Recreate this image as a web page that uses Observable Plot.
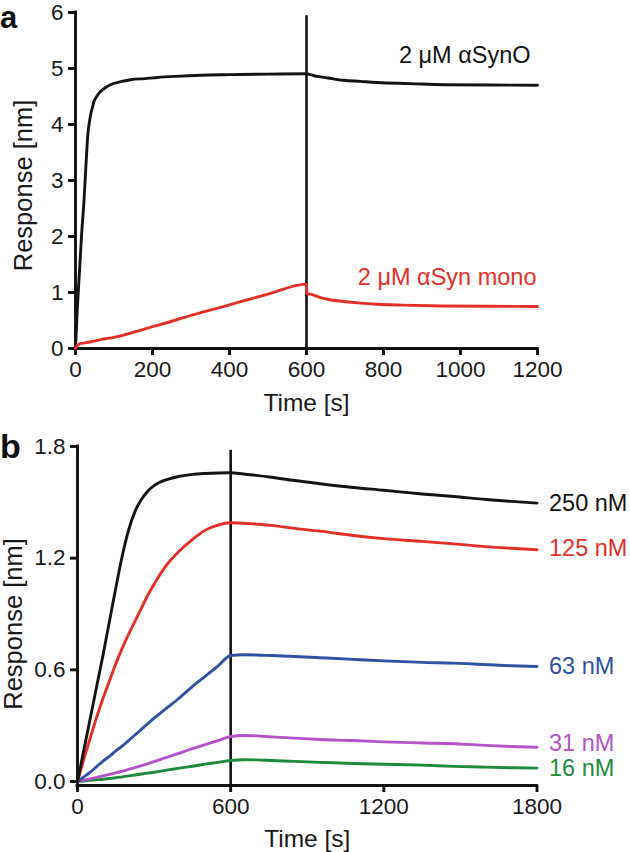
<!DOCTYPE html>
<html>
<head>
<meta charset="utf-8">
<script src="https://cdn.jsdelivr.net/npm/d3@7"></script>
<script src="https://cdn.jsdelivr.net/npm/@observablehq/plot@0.6"></script>
<style>
  html, body { margin: 0; padding: 0; background: #fff; }
  #chart { position: relative; width: 630px; height: 852px; overflow: hidden; font-family: "Liberation Sans", Arial, sans-serif; }
  .panel { position: absolute; left: 0; }
  .letter { position: absolute; left: 0; font-weight: bold; color: #111; }
</style>
</head>
<body>
<div id="chart">
  <div id="pa" class="panel" style="top:0px"></div>
  <div id="pb" class="panel" style="top:420px"></div>
  <div class="letter" style="top:0px;font-size:31px;line-height:35px;">a</div>
  <div class="letter" style="top:431px;font-size:34px;line-height:30px;">b</div>
</div>
<script>
// ---------- Panel a data ----------
const aXTicks = [0, 200, 400, 600, 800, 1000, 1200];
const aYTicks = [0, 1, 2, 3, 4, 5, 6];
const aXDomain = [0, 1200];
const aYDomain = [0, 6];
const aInjectEnd = 600;
const aInjectTop = 5.94;

const synOTime = [0, 5, 11, 16, 22, 27, 32, 37, 41, 45, 48, 55, 65, 78, 91, 115, 143, 180, 213, 260, 325, 400, 500, 600,
                  610, 620, 636, 656, 696, 740, 783, 870, 956, 1080, 1200];
const synOResp = [0, 0.75, 1.45, 2.05, 2.63, 3.25, 3.82, 4.08, 4.23, 4.33, 4.41, 4.5, 4.59, 4.66, 4.71, 4.76, 4.8, 4.82, 4.84, 4.86, 4.88, 4.89, 4.9, 4.905,
                  4.89, 4.87, 4.85, 4.83, 4.79, 4.77, 4.75, 4.73, 4.71, 4.705, 4.7];

const monoTime = [0, 3, 8, 13, 25, 40, 60, 74, 100, 130, 161, 190, 222, 300, 400, 500, 600,
                  601, 610, 620, 636, 654, 696, 740, 783, 850, 956, 1080, 1200];
const monoResp = [0, 0.04, 0.07, 0.09, 0.1, 0.12, 0.15, 0.17, 0.2, 0.25, 0.31, 0.37, 0.43, 0.59, 0.78, 0.97, 1.15,
                  0.98, 0.97, 0.95, 0.91, 0.88, 0.84, 0.81, 0.79, 0.775, 0.76, 0.755, 0.75];

const aNames = ["2 μM αSynO", "2 μM αSyn mono"];
const aColors = ["#141414", "#e5302a"];

// ---------- Panel b data ----------
const bXTicks = [0, 600, 1200, 1800];
const bYTicks = [0, 0.6, 1.2, 1.8];
const bXDomain = [0, 1800];
const bYDomain = [-0.0215, 1.8];
const bInjectEnd = 600;
const bInjectTop = 1.78;

const bTime = [0, 25, 50, 75, 100, 125, 150, 175, 200, 225, 250, 275, 300, 350, 400, 450, 500, 550, 600,
               650, 700, 760, 850, 950, 1080, 1200, 1350, 1475, 1600, 1700, 1800];
const resp250 = [0, 0.17, 0.34, 0.51, 0.68, 0.86, 1.04, 1.21, 1.35, 1.45, 1.515, 1.56, 1.59, 1.622, 1.64, 1.65, 1.655, 1.658, 1.659,
                 1.652, 1.645, 1.635, 1.617, 1.6, 1.58, 1.565, 1.545, 1.531, 1.515, 1.505, 1.496];
const resp125 = [0, 0.12, 0.235, 0.345, 0.447, 0.54, 0.632, 0.715, 0.79, 0.86, 0.93, 1.0, 1.06, 1.165, 1.24, 1.3, 1.35, 1.378, 1.39,
                 1.388, 1.383, 1.376, 1.36, 1.345, 1.322, 1.305, 1.29, 1.277, 1.262, 1.253, 1.245];
const resp63  = [0, 0.025, 0.05, 0.08, 0.11, 0.135, 0.165, 0.19, 0.22, 0.25, 0.28, 0.31, 0.34, 0.395, 0.45, 0.51, 0.565, 0.62, 0.677,
                 0.681, 0.68, 0.677, 0.672, 0.665, 0.656, 0.648, 0.64, 0.636, 0.628, 0.622, 0.618];
const resp31  = [0, 0.007, 0.014, 0.022, 0.03, 0.038, 0.046, 0.055, 0.065, 0.075, 0.085, 0.095, 0.107, 0.13, 0.153, 0.176, 0.198, 0.22, 0.242,
                 0.247, 0.245, 0.24, 0.233, 0.226, 0.22, 0.213, 0.207, 0.203, 0.194, 0.188, 0.184];
const resp16  = [0, 0.003, 0.006, 0.009, 0.012, 0.016, 0.02, 0.025, 0.03, 0.035, 0.04, 0.045, 0.05, 0.061, 0.072, 0.082, 0.093, 0.103, 0.113,
                 0.117, 0.116, 0.113, 0.108, 0.103, 0.097, 0.093, 0.088, 0.081, 0.077, 0.074, 0.072];

const bNames = ["250 nM", "125 nM", "63 nM", "31 nM", "16 nM"];
const bColors = ["#141414", "#e5302a", "#2f52a4", "#b454c8", "#1e8c3c"];
const bResps = [resp250, resp125, resp63, resp31, resp16];

// ---------- helpers ----------
const FONT = '"Liberation Sans", Arial, Helvetica, sans-serif';
const AXW = 2.9;
const LW = 2.9;
const INJW = 2.6;
const intFmt = d3.format("d");

function rows(ts, vs) { return ts.map((t, i) => ({t, v: vs[i]})); }

function thickenTicks(svg) {
  d3.select(svg).selectAll('g[aria-label*="tick"]').each(function () {
    const label = this.getAttribute("aria-label") || "";
    if (label.includes("label")) return;
    d3.select(this).attr("stroke-width", AXW).attr("stroke", "#111");
    d3.select(this).selectAll("path, line").attr("stroke-width", AXW).attr("stroke", "#111");
  });
}

// ---------- Panel a ----------
const aSeries = [rows(synOTime, synOResp), rows(monoTime, monoResp)];
const aLabelOffsets = [{dx: -7, dy: -30}, {dx: -1, dy: -29}];

const plotA = Plot.plot({
  width: 630, height: 420,
  marginLeft: 75, marginRight: 93, marginTop: 12, marginBottom: 72,
  style: {fontFamily: FONT, fontSize: "22.5px", color: "#1a1a1a", background: "transparent", overflow: "visible"},
  x: {domain: aXDomain},
  y: {domain: aYDomain},
  marks: [
    Plot.axisX({ticks: aXTicks, tickFormat: intFmt, tickSize: 7, tickPadding: 6, label: null, fontSize: 22.5}),
    Plot.axisY({ticks: aYTicks, tickFormat: intFmt, tickSize: 7, tickPadding: 5, label: null, fontSize: 22.5}),
    Plot.ruleY([aYDomain[0]], {stroke: "#111", strokeWidth: AXW, strokeLinecap: "square"}),
    Plot.ruleX([aXDomain[0]], {stroke: "#111", strokeWidth: AXW, strokeLinecap: "square"}),
    Plot.ruleX([aInjectEnd], {y1: aYDomain[0], y2: aInjectTop, stroke: "#111", strokeWidth: INJW}),
    ...aSeries.map((s, i) => Plot.line(s, {x: "t", y: "v", stroke: aColors[i], strokeWidth: LW, curve: "monotone-x"})),
    ...aSeries.map((s, i) => Plot.text([s[s.length - 1]], {
      x: "t", y: "v", text: () => aNames[i], fill: aColors[i], textAnchor: "end",
      dx: aLabelOffsets[i].dx, dy: aLabelOffsets[i].dy, fontSize: 23.5
    })),
    Plot.text(["Time [s]"], {frameAnchor: "bottom", text: d => d, textAnchor: "middle", lineAnchor: "top", dy: 45, fontSize: 24.5, fill: "#1a1a1a"}),
    Plot.text(["Response [nm]"], {frameAnchor: "left", text: d => d, rotate: -90, textAnchor: "middle", lineAnchor: "top", dx: -62, dy: 5, fontSize: 25.5, fill: "#1a1a1a"})
  ]
});
thickenTicks(plotA);
document.getElementById("pa").appendChild(plotA);

// ---------- Panel b ----------
const bSeries = bResps.map(r => rows(bTime, r));
const bLabelDy = [0, -1, 0, -4, 0];

const plotB = Plot.plot({
  width: 630, height: 432,
  marginLeft: 77, marginRight: 93.5, marginTop: 26, marginBottom: 67,
  style: {fontFamily: FONT, fontSize: "22.5px", color: "#1a1a1a", background: "transparent", overflow: "visible"},
  x: {domain: bXDomain},
  y: {domain: bYDomain},
  marks: [
    Plot.axisX({ticks: bXTicks, tickFormat: intFmt, tickSize: 7, tickPadding: 6, label: null, fontSize: 22.5}),
    Plot.axisY({ticks: bYTicks, tickFormat: d3.format(".1f"), tickSize: 7, tickPadding: 5, label: null, fontSize: 22.5}),
    Plot.ruleY([bYDomain[0]], {stroke: "#111", strokeWidth: AXW, strokeLinecap: "square"}),
    Plot.ruleX([bXDomain[0]], {stroke: "#111", strokeWidth: AXW, strokeLinecap: "square"}),
    Plot.ruleX([bInjectEnd], {y1: bYDomain[0], y2: bInjectTop, stroke: "#111", strokeWidth: INJW}),
    ...bSeries.slice().reverse().map((s, j) => {
      const i = bSeries.length - 1 - j;
      return Plot.line(s, {x: "t", y: "v", stroke: bColors[i], strokeWidth: LW, curve: "monotone-x"});
    }),
    ...bSeries.map((s, i) => Plot.text([s[s.length - 1]], {
      x: "t", y: "v", text: () => bNames[i], fill: bColors[i], textAnchor: "start",
      dx: 12, dy: bLabelDy[i], fontSize: 23.5
    })),
    Plot.text(["Time [s]"], {frameAnchor: "bottom", text: d => d, textAnchor: "middle", lineAnchor: "top", dy: 44, fontSize: 24.5, fill: "#1a1a1a"}),
    Plot.text(["Response [nm]"], {frameAnchor: "left", text: d => d, rotate: -90, textAnchor: "middle", lineAnchor: "top", dx: -74, dy: 8, fontSize: 25.5, fill: "#1a1a1a"})
  ]
});
thickenTicks(plotB);
document.getElementById("pb").appendChild(plotB);
</script>
</body>
</html>
